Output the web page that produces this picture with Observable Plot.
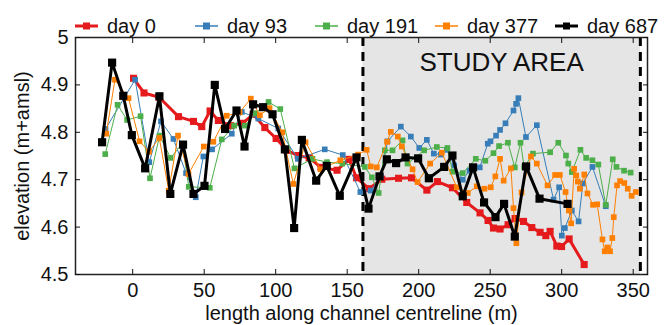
<!DOCTYPE html>
<html>
<head>
<meta charset="utf-8">
<script src="https://cdn.jsdelivr.net/npm/d3@7"></script>
<script src="https://cdn.jsdelivr.net/npm/@observablehq/plot@0.6"></script>
<style>
  body { margin: 0; background: #fff; font-family: "Liberation Sans", Arial, sans-serif; }
  #legend { position: relative; width: 668px; height: 36px; }
  .item { position: absolute; top: 16px; height: 20px; display: flex; align-items: center; font-size: 20px; line-height: 20px; color: #111; white-space: nowrap; }
  .item svg { margin-right: 9px; }
</style>
</head>
<body>
<div id="legend"></div>
<div id="chart"></div>
<script>
// ---- data ----
const seriesNames = ["day 0", "day 93", "day 191", "day 377", "day 687"];
const seriesColors = ["#e41a1c", "#377eb8", "#4daf4a", "#ff7f00", "#000000"];

const day0X = [0.6, 7.9, 18.5, 32.0, 42.5, 48.3, 54.1, 59.9, 68.5, 76.8, 84.2, 92.4, 100.3, 107.8, 115.7, 123.4, 131.7, 142.9, 151.3, 156.5, 165.3, 174.2, 185.9, 195.0, 205.7, 213.1, 223.6, 233.6, 242.9, 248.5, 252.3, 256.9, 262.5, 267.4, 273.3, 279.1, 284.9, 288.9, 291.9, 296.6, 299.9, 305.2, 315.7];
const day0Y = [4.914, 4.883, 4.874, 4.833, 4.823, 4.812, 4.845, 4.825, 4.814, 4.819, 4.838, 4.810, 4.787, 4.762, 4.751, 4.746, 4.726, 4.720, 4.743, 4.704, 4.681, 4.701, 4.703, 4.704, 4.678, 4.696, 4.683, 4.652, 4.630, 4.614, 4.598, 4.596, 4.605, 4.618, 4.612, 4.599, 4.589, 4.582, 4.591, 4.560, 4.559, 4.575, 4.521];

const day93X = [-19.0, 1.7, 11.6, 19.8, 28.5, 37.3, 44.1, 49.4, 55.5, 69.3, 76.3, 87.8, 101.8, 115.5, 134.3, 146.9, 159.2, 166.5, 173.5, 178.2, 187.5, 194.5, 200.4, 205.7, 210.6, 215.5, 219.7, 224.8, 230.8, 235.5, 242.7, 248.3, 250.2, 254.1, 256.9, 260.7, 266.3, 268.1, 269.7, 275.0, 282.6, 294.3, 298.2, 300.1, 302.2, 307.1, 311.8, 314.8, 321.5, 330.8];
const day93Y = [4.807, 4.911, 4.737, 4.823, 4.786, 4.714, 4.663, 4.749, 4.764, 4.797, 4.843, 4.829, 4.808, 4.744, 4.764, 4.752, 4.674, 4.677, 4.707, 4.781, 4.812, 4.791, 4.767, 4.784, 4.755, 4.753, 4.763, 4.730, 4.700, 4.719, 4.726, 4.776, 4.781, 4.793, 4.805, 4.819, 4.846, 4.860, 4.872, 4.790, 4.815, 4.658, 4.684, 4.582, 4.598, 4.635, 4.612, 4.692, 4.727, 4.644];

const day191X = [-19.2, -10.6, -3.9, 5.5, 12.1, 18.8, 26.5, 34.7, 39.2, 53.9, 62.3, 71.0, 78.5, 85.9, 95.0, 103.2, 113.1, 125.7, 135.9, 146.6, 162.3, 167.3, 172.0, 176.3, 181.7, 188.7, 192.2, 203.8, 212.7, 220.1, 223.6, 230.8, 239.9, 246.6, 252.3, 256.2, 262.4, 267.2, 271.2, 273.8, 279.9, 291.9, 297.6, 303.0, 304.6, 307.1, 313.1, 317.1, 321.5, 325.6, 330.8, 335.7, 338.3, 343.6, 348.2];
const day191Y = [4.754, 4.858, 4.826, 4.834, 4.703, 4.793, 4.746, 4.776, 4.685, 4.683, 4.785, 4.814, 4.814, 4.840, 4.864, 4.849, 4.724, 4.744, 4.737, 4.734, 4.727, 4.705, 4.672, 4.762, 4.762, 4.783, 4.734, 4.762, 4.769, 4.767, 4.717, 4.714, 4.744, 4.740, 4.756, 4.771, 4.778, 4.726, 4.778, 4.727, 4.755, 4.758, 4.778, 4.751, 4.734, 4.716, 4.763, 4.746, 4.741, 4.732, 4.647, 4.743, 4.727, 4.719, 4.715];

const day377X = [-18.5, -12.4, -2.9, 4.8, 11.4, 18.6, 25.2, 31.7, 39.0, 49.7, 56.4, 65.7, 74.7, 82.6, 88.9, 95.7, 104.6, 112.3, 120.9, 131.4, 145.2, 157.6, 163.6, 166.5, 170.7, 177.9, 180.5, 185.4, 188.2, 195.7, 199.2, 208.0, 216.2, 226.6, 234.3, 240.6, 246.0, 250.4, 253.6, 256.9, 259.4, 264.5, 266.3, 268.3, 271.9, 278.5, 282.6, 290.1, 295.4, 298.7, 302.7, 305.0, 306.6, 308.7, 310.2, 311.3, 312.7, 315.8, 318.0, 321.9, 324.8, 328.5, 330.1, 332.0, 333.8, 335.4, 336.4, 338.7, 340.8, 343.8, 346.2, 348.9, 351.8];
const day377Y = [4.797, 4.911, 4.872, 4.781, 4.759, 4.788, 4.677, 4.793, 4.712, 4.770, 4.780, 4.835, 4.842, 4.871, 4.836, 4.851, 4.800, 4.691, 4.779, 4.722, 4.741, 4.753, 4.763, 4.728, 4.726, 4.780, 4.801, 4.791, 4.770, 4.722, 4.695, 4.734, 4.757, 4.684, 4.672, 4.686, 4.681, 4.684, 4.707, 4.744, 4.698, 4.724, 4.640, 4.566, 4.673, 4.749, 4.734, 4.688, 4.710, 4.710, 4.674, 4.635, 4.608, 4.723, 4.709, 4.696, 4.681, 4.711, 4.671, 4.647, 4.648, 4.574, 4.549, 4.557, 4.549, 4.577, 4.621, 4.688, 4.697, 4.693, 4.681, 4.666, 4.674];

const day687X = [-21.4, -14.4, -6.6, -0.6, 8.7, 18.7, 26.3, 35.2, 42.5, 50.2, 57.4, 64.6, 72.6, 78.2, 84.2, 91.2, 97.8, 106.4, 112.9, 118.3, 128.3, 135.7, 144.8, 156.5, 164.9, 172.6, 177.7, 184.2, 190.8, 199.6, 207.1, 217.8, 223.6, 230.8, 238.0, 245.7, 253.7, 259.7, 267.2, 275.1, 284.5, 304.1];
const day687Y = [4.779, 4.947, 4.877, 4.794, 4.724, 4.876, 4.670, 4.774, 4.670, 4.687, 4.900, 4.807, 4.846, 4.770, 4.859, 4.853, 4.838, 4.764, 4.598, 4.784, 4.698, 4.729, 4.666, 4.747, 4.639, 4.707, 4.743, 4.735, 4.747, 4.745, 4.703, 4.727, 4.751, 4.665, 4.726, 4.652, 4.621, 4.649, 4.580, 4.728, 4.660, 4.649];

const studyArea = [161, 355];
const studyLabel = "STUDY AREA";
const xTicks = [0, 50, 100, 150, 200, 250, 300, 350];
const yTicks = [4.5, 4.6, 4.7, 4.8, 4.9, 5];
const xDomain = [-40, 360];
const yDomain = [4.5, 5];
const xLabel = "length along channel centreline (m)";
const yLabel = "elevation (m+amsl)";

// ---- styling per series ----
const lineWidths = [3, 1, 1, 1, 3];
const markerR = [4, 3.2, 3.2, 3.2, 4.6];

const xs = [day0X, day93X, day191X, day377X, day687X];
const ys = [day0Y, day93Y, day191Y, day377Y, day687Y];
const tables = xs.map((arr, k) => arr.map((x, i) => ({x, y: ys[k][i]})));

// ---- legend ----
const legend = document.getElementById("legend");
seriesNames.forEach((name, i) => {
  const item = document.createElement("div");
  item.className = "item";
  item.style.left = (75 + i * 120) + "px";
  const s = 7;
  item.innerHTML = `<svg width="23" height="20"><line x1="0" x2="23" y1="10" y2="10" stroke="${seriesColors[i]}" stroke-width="${lineWidths[i] === 3 ? 3 : 1.5}"/><rect x="${11.5 - s/2}" y="${10 - s/2}" width="${s}" height="${s}" fill="${seriesColors[i]}"/></svg><span>${name}</span>`;
  legend.appendChild(item);
});

// ---- chart ----
const seriesMarks = tables.flatMap((t, i) => [
  Plot.line(t, {x: "x", y: "y", stroke: seriesColors[i], strokeWidth: lineWidths[i], strokeLinejoin: "miter"}),
  Plot.dot(t, {x: "x", y: "y", symbol: "square", r: markerR[i], fill: seriesColors[i], stroke: "none"})
]);

const font = '"Liberation Sans", Arial, sans-serif';
const chart = Plot.plot({
  width: 668,
  height: 289,
  marginTop: 1,
  marginBottom: 51,
  marginLeft: 75,
  marginRight: 21,
  x: {domain: xDomain},
  y: {domain: yDomain},
  style: {fontFamily: font, fontSize: "20px", color: "#111", background: "white", overflow: "visible"},
  marks: [
    Plot.rect([studyArea], {x1: d => d[0], x2: d => d[1], fill: "#e5e5e5"}),
    Plot.ruleX(studyArea, {stroke: "#000", strokeWidth: 3, strokeDasharray: "9,6"}),
    ...seriesMarks,
    Plot.text([studyLabel], {x: (studyArea[0] + studyArea[1]) / 2, frameAnchor: "top", dy: 25, lineAnchor: "middle", textAnchor: "middle", fontSize: 26, fill: "#111"}),
    Plot.frame({stroke: "#222", strokeWidth: 1.5}),
    Plot.axisX(xTicks, {anchor: "bottom", tickSize: 0, tickPadding: 8, label: null, fontSize: 20}),
    Plot.axisX(xTicks, {anchor: "bottom", tickSize: -5, tickFormat: () => "", label: null}),
    Plot.axisX(xTicks, {anchor: "top", tickSize: -5, tickFormat: () => "", label: null}),
    Plot.axisY(yTicks, {anchor: "left", tickSize: 0, tickPadding: 7, label: null, fontSize: 20, tickFormat: d => String(d)}),
    Plot.axisY(yTicks, {anchor: "left", tickSize: -5, tickFormat: () => "", label: null}),
    Plot.axisY(yTicks, {anchor: "right", tickSize: -5, tickFormat: () => "", label: null}),
    Plot.text([xLabel], {frameAnchor: "bottom", dy: 39, lineAnchor: "middle", textAnchor: "middle", fontSize: 20, fill: "#111"}),
    Plot.text([yLabel], {frameAnchor: "left", dx: -53, rotate: -90, lineAnchor: "middle", textAnchor: "middle", fontSize: 20, fill: "#111"})
  ]
});
document.getElementById("chart").appendChild(chart);
</script>
</body>
</html>
